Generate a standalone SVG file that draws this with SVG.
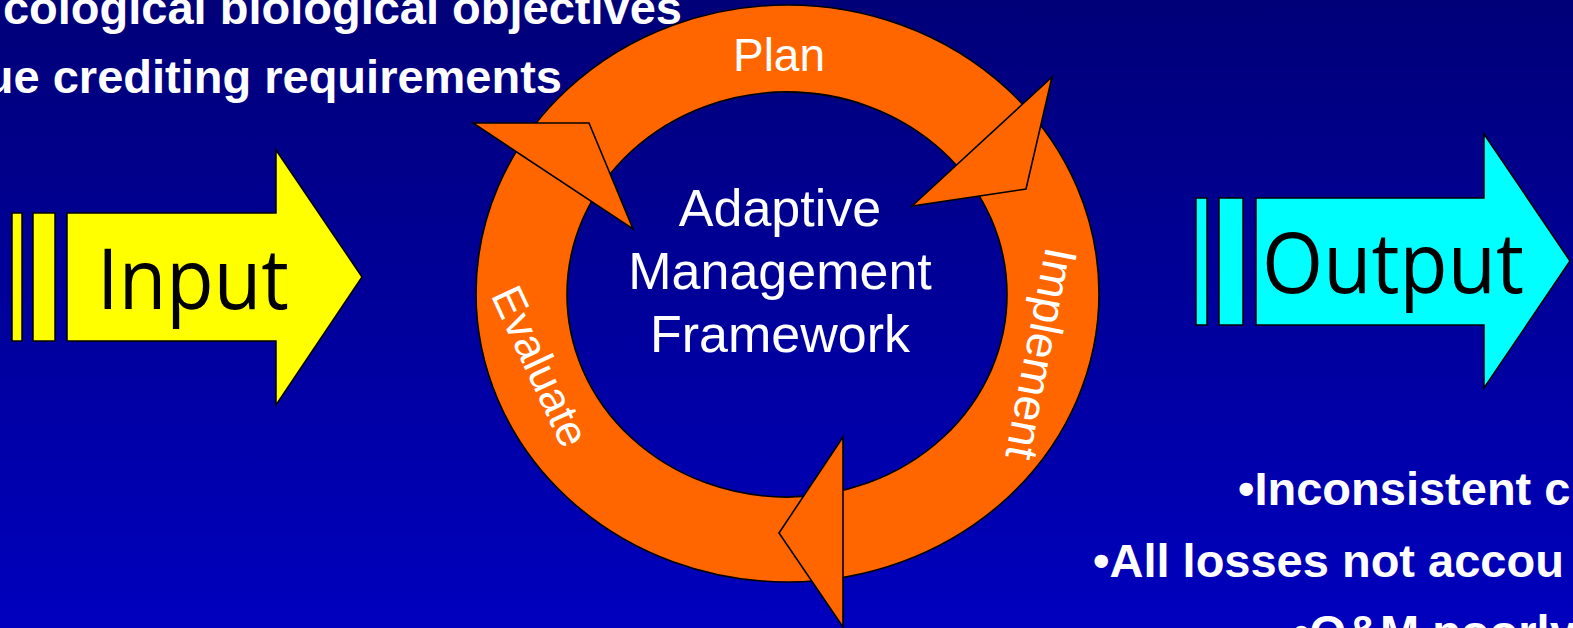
<svg xmlns="http://www.w3.org/2000/svg" width="1573" height="628" viewBox="0 0 1573 628">
  <defs>
    <linearGradient id="bg" x1="0" y1="0" x2="0" y2="1">
      <stop offset="0" stop-color="#000078"/>
      <stop offset="1" stop-color="#0000BE"/>
    </linearGradient>
    <style>
      .bold { font-family: "Liberation Sans", Arial, sans-serif; font-weight: bold; font-size: 47px; fill: #ffffff; }
      .lbl { font-family: "Liberation Sans", Arial, sans-serif; fill: #ffffff; }
      .big { font-family: "Open Sans", "Liberation Sans", sans-serif; font-size: 84px; fill: #000000; }
      .orange { fill: #FF6600; stroke: #000000; stroke-width: 1.6; stroke-linejoin: miter; }
      .yel { fill: #FFFF00; stroke: #000000; stroke-width: 1.5; }
      .cyan { fill: #00FFFF; stroke: #000000; stroke-width: 1.5; }
    </style>
  </defs>

  <rect id="background" x="0" y="0" width="1573" height="628" fill="url(#bg)"/>

  <g id="top-left-text">
    <text class="bold" x="682" y="24" text-anchor="end">cological biological objectives</text>
    <text class="bold" x="562" y="93" text-anchor="end">ue crediting requirements</text>
  </g>

  <g id="input-node">
    <rect class="yel" x="12" y="213" width="10" height="128"/>
    <rect class="yel" x="33" y="213" width="22" height="128"/>
    <polygon class="yel" points="67,213 276,213 276,150 362,277 276,405 276,341 67,341"/>
    <text class="big" x="97" y="309" textLength="192" lengthAdjust="spacingAndGlyphs">Input</text>
  </g>

  <g id="output-node">
    <rect class="cyan" x="1196" y="198" width="11" height="127"/>
    <rect class="cyan" x="1219" y="198" width="24" height="127"/>
    <polygon class="cyan" points="1256,198 1484,198 1484,134 1570,261 1484,388 1484,325 1256,325"/>
    <text class="big" x="1262" y="293" textLength="262" lengthAdjust="spacingAndGlyphs">Output</text>
  </g>

  <g id="connectors">
    <path id="cycle-ring" class="orange" fill-rule="evenodd"
      d="M 476,293.5 A 311.5,288.5 0 1,0 1099,293.5 A 311.5,288.5 0 1,0 476,293.5 Z M 567,294.5 A 220,202.5 0 1,0 1007,294.5 A 220,202.5 0 1,0 567,294.5 Z"/>
    <polygon id="head-evaluate" class="orange" points="473,123 589,123 633,229"/>
    <polygon id="head-plan" class="orange" points="1052,77 1026,189 912,206"/>
    <polygon id="head-implement" class="orange" points="843,437 779,533 843,627"/>
  </g>

  <g id="cycle-labels">
    <text class="lbl" x="779" y="71" font-size="46" text-anchor="middle">Plan</text>
    <text class="lbl" font-size="46" text-anchor="middle" dy="0.36em" transform="translate(1042,354) rotate(101)">Implement</text>
    <text class="lbl" font-size="44" text-anchor="middle" dy="0.36em" transform="translate(541,366) rotate(65)">Evaluate</text>
  </g>

  <g id="center-node">
    <text class="lbl" x="780" y="226" font-size="52" text-anchor="middle">Adaptive</text>
    <text class="lbl" x="780" y="289" font-size="52" text-anchor="middle">Management</text>
    <text class="lbl" x="780" y="352" font-size="52" text-anchor="middle">Framework</text>
  </g>

  <g id="bottom-right-text">
    <text class="bold" x="1238" y="505">•Inconsistent c</text>
    <text class="bold" x="1093" y="577" font-size="47.5">•All losses not accou</text>
    <text class="bold" x="1293" y="648">•O&amp;M poorly</text>
  </g>
</svg>
